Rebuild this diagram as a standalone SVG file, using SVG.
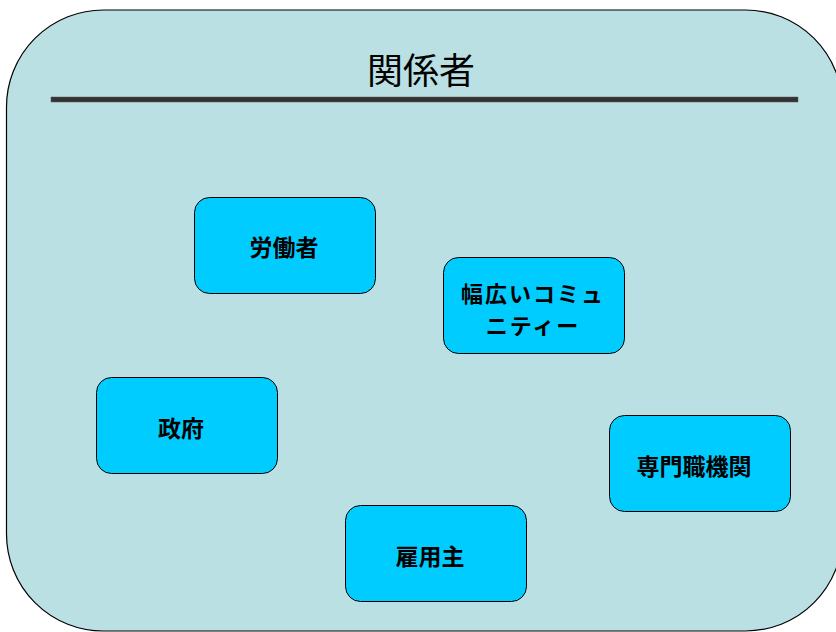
<svg xmlns="http://www.w3.org/2000/svg" width="836" height="632" viewBox="0 0 836 632">
<style>
.node rect{fill:#00CCFF;stroke:#000;stroke-width:1}
.node text{font-family:"Noto Sans CJK JP","Liberation Sans",sans-serif;font-weight:bold;font-size:23px;fill:#000;text-anchor:middle}
.node text.sm{font-size:22px}
.title{font-family:"Noto Sans CJK JP","Liberation Sans",sans-serif;font-size:36px;fill:#000;text-anchor:middle}
</style>
<rect width="836" height="632" fill="#fff"/>
<g id="container">
<rect x="6.5" y="10" width="836" height="621" rx="97" ry="97" fill="#BBE0E3" stroke="#000" stroke-width="1.2"/>
<text class="title" x="421" y="84">関係者</text>
<rect x="51" y="97" width="747" height="5" fill="#333" stroke="#555" stroke-width="0.5"/>
</g>
<g id="connectors"></g>
<g id="n1" class="node"><rect x="194.5" y="197.5" width="181" height="96" rx="15"/><text x="284" y="256">労働者</text></g>
<g id="n2" class="node"><rect x="443.5" y="257.5" width="181" height="96" rx="15"/><text class="sm" x="533" y="302" letter-spacing="2">幅広いコミュ</text><text class="sm" x="533" y="334" letter-spacing="2">ニティー</text></g>
<g id="n3" class="node"><rect x="96.5" y="377.5" width="181" height="96" rx="15"/><text x="181" y="437">政府</text></g>
<g id="n4" class="node"><rect x="609.5" y="415.5" width="181" height="96" rx="15"/><text x="694" y="475">専門職機関</text></g>
<g id="n5" class="node"><rect x="345.5" y="505.5" width="181" height="96" rx="15"/><text x="430" y="565">雇用主</text></g>
</svg>
